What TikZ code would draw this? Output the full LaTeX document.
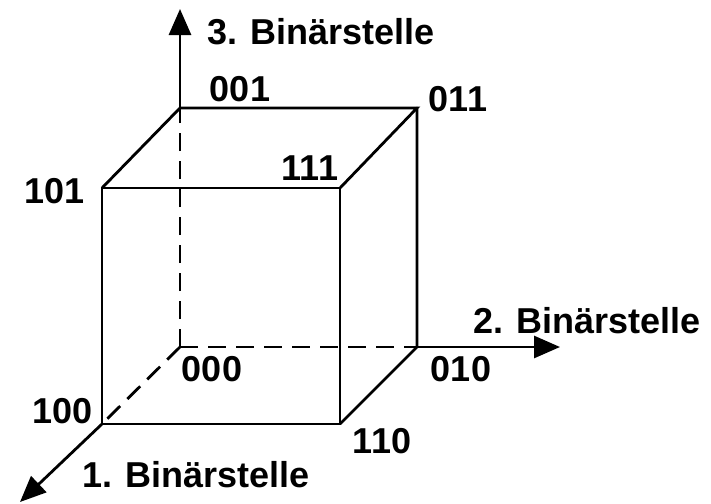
\documentclass[tikz,border=0pt]{standalone}
\usepackage{fontspec}
\setmainfont{Liberation Sans}
\usetikzlibrary{arrows.meta}
\begin{document}
\begin{tikzpicture}[x=0.5pt,y=-0.5pt,
  edge/.style={line width=1.4pt,line cap=round},
  hid/.style={line width=1.4pt,dash pattern=on 9pt off 5pt},
  axis/.style={line width=1.4pt,-{Triangle[length=13pt,width=11pt]}},
  lbl/.style={font=\fontsize{18}{20}\selectfont\bfseries,inner sep=0pt}]
\useasboundingbox (0,0) rectangle (711,503);
% cube corners
\coordinate (c000) at (180,347);
\coordinate (c010) at (417,347);
\coordinate (c001) at (180,108);
\coordinate (c011) at (417,108);
\coordinate (c100) at (102,424);
\coordinate (c110) at (340,424);
\coordinate (c101) at (102,188);
\coordinate (c111) at (340,188);
% axis ends
\coordinate (ax3) at (180,9);
\coordinate (ax2) at (560,347);
\coordinate (ax1) at (20,502);
% hidden edges
\draw[hid] (c000) -- (c001);
\draw[hid] (c000) -- (c010);
\draw[hid] (c000) -- (c100);
% visible edges
\draw[edge] (c100) -- (c110) -- (c111) -- (c101) -- cycle;
\draw[edge] (c101) -- (c001) -- (c011) -- (c111);
\draw[edge] (c011) -- (c010) -- (c110);
% axes
\draw[axis] (c001) -- (ax3);
\draw[axis] (c010) -- (ax2);
\draw[axis] (c100) -- (ax1);
% labels
\node[lbl] (t3) at (321,32) {3. Binärstelle};
\node[lbl] (t2) at (587,321) {2. Binärstelle};
\node[lbl] (t1) at (196,475) {1. Binärstelle};
\node[lbl] (l001) at (240,89) {001};
\node[lbl] (l011) at (458,99) {011};
\node[lbl] (l101) at (55,191) {101};
\node[lbl] (l111) at (310,168) {111};
\node[lbl] (l000) at (212,369) {000};
\node[lbl] (l010) at (461,369) {010};
\node[lbl] (l100) at (63,411) {100};
\node[lbl] (l110) at (382,441) {110};
\end{tikzpicture}
\end{document}
